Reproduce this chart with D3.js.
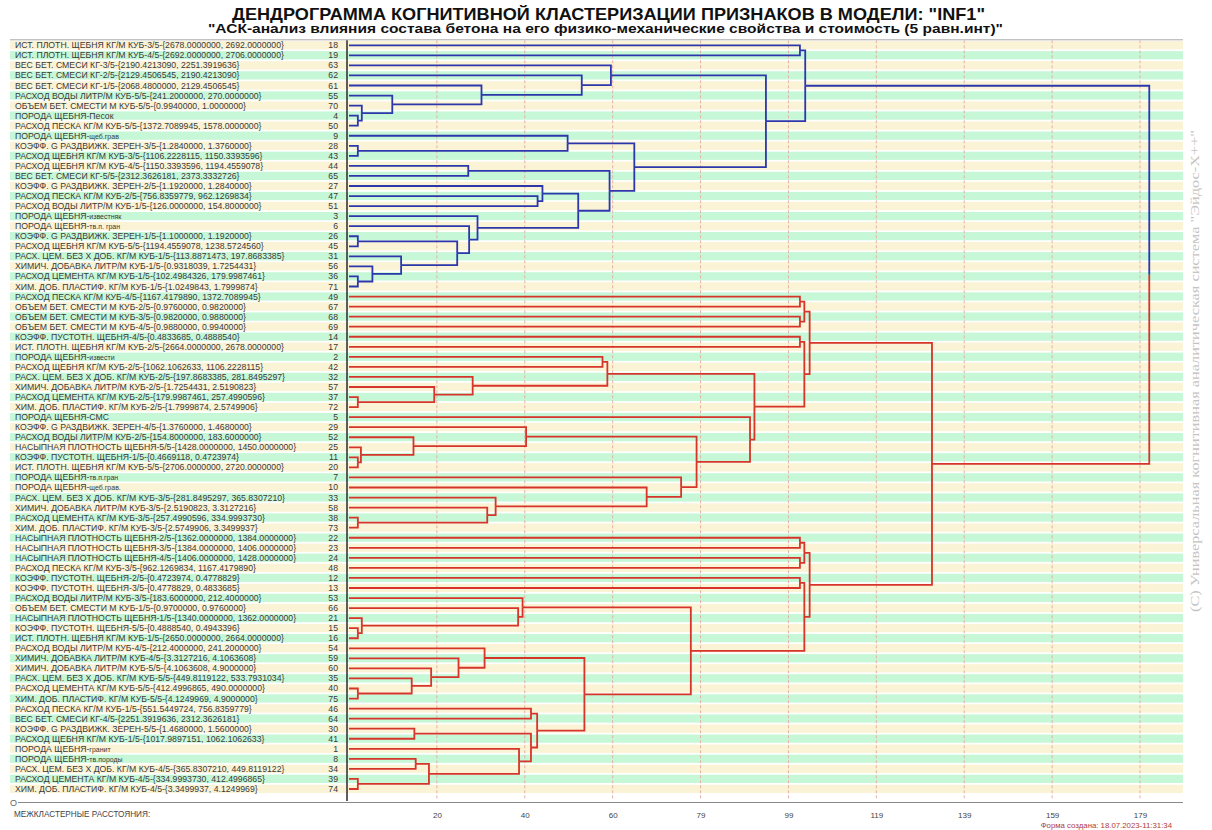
<!DOCTYPE html>
<html>
<head>
<meta charset="utf-8">
<script src="https://cdn.jsdelivr.net/npm/d3@7"></script>
<style>
  body { margin: 0; background: #fff; }
  svg { display: block; }
</style>
</head>
<body>
<svg id="chart" width="1212" height="830"></svg>
<script>
// ---- Data -----------------------------------------------------------------
const titleText = 'ДЕНДРОГРАММА КОГНИТИВНОЙ КЛАСТЕРИЗАЦИИ ПРИЗНАКОВ В МОДЕЛИ: "INF1"';
const subtitleText = '"АСК-анализ влияния состава бетона на его физико-механические  свойства и стоимость (5 равн.инт)"';
const axisTitle = 'МЕЖКЛАСТЕРНЫЕ РАССТОЯНИЯ:';
const stampText = 'Форма создана: 18.07.2023-11:31:34';
const watermarkText = '(С) Универсальная когнитивная аналитическая система "Эйдос-Х++"';

// leaf order (top to bottom) with feature names and their codes
const featureNames = [
  "ИСТ. ПЛОТН. ЩЕБНЯ КГ/М КУБ-3/5-{2678.0000000, 2692.0000000}",
  "ИСТ. ПЛОТН. ЩЕБНЯ КГ/М КУБ-4/5-{2692.0000000, 2706.0000000}",
  "ВЕС БЕТ. СМЕСИ КГ-3/5-{2190.4213090, 2251.3919636}",
  "ВЕС БЕТ. СМЕСИ КГ-2/5-{2129.4506545, 2190.4213090}",
  "ВЕС БЕТ. СМЕСИ КГ-1/5-{2068.4800000, 2129.4506545}",
  "РАСХОД ВОДЫ ЛИТР/М КУБ-5/5-{241.2000000, 270.0000000}",
  "ОБЪЕМ БЕТ. СМЕСТИ М КУБ-5/5-{0.9940000, 1.0000000}",
  "ПОРОДА ЩЕБНЯ-Песок",
  "РАСХОД ПЕСКА КГ/М КУБ-5/5-{1372.7089945, 1578.0000000}",
  "ПОРОДА ЩЕБНЯ-щеб.грав",
  "КОЭФФ. G РАЗДВИЖК. ЗЕРЕН-3/5-{1.2840000, 1.3760000}",
  "РАСХОД ЩЕБНЯ КГ/М КУБ-3/5-{1106.2228115, 1150.3393596}",
  "РАСХОД ЩЕБНЯ КГ/М КУБ-4/5-{1150.3393596, 1194.4559078}",
  "ВЕС БЕТ. СМЕСИ КГ-5/5-{2312.3626181, 2373.3332726}",
  "КОЭФФ. G РАЗДВИЖК. ЗЕРЕН-2/5-{1.1920000, 1.2840000}",
  "РАСХОД ПЕСКА КГ/М КУБ-2/5-{756.8359779, 962.1269834}",
  "РАСХОД ВОДЫ ЛИТР/М КУБ-1/5-{126.0000000, 154.8000000}",
  "ПОРОДА ЩЕБНЯ-известняк",
  "ПОРОДА ЩЕБНЯ-тв.п. гран",
  "КОЭФФ. G РАЗДВИЖК. ЗЕРЕН-1/5-{1.1000000, 1.1920000}",
  "РАСХОД ЩЕБНЯ КГ/М КУБ-5/5-{1194.4559078, 1238.5724560}",
  "РАСХ. ЦЕМ. БЕЗ Х ДОБ. КГ/М КУБ-1/5-{113.8871473, 197.8683385}",
  "ХИМИЧ. ДОБАВКА ЛИТР/М КУБ-1/5-{0.9318039, 1.7254431}",
  "РАСХОД ЦЕМЕНТА КГ/М КУБ-1/5-{102.4984326, 179.9987461}",
  "ХИМ. ДОБ. ПЛАСТИФ. КГ/М КУБ-1/5-{1.0249843, 1.7999874}",
  "РАСХОД ПЕСКА КГ/М КУБ-4/5-{1167.4179890, 1372.7089945}",
  "ОБЪЕМ БЕТ. СМЕСТИ М КУБ-2/5-{0.9760000, 0.9820000}",
  "ОБЪЕМ БЕТ. СМЕСТИ М КУБ-3/5-{0.9820000, 0.9880000}",
  "ОБЪЕМ БЕТ. СМЕСТИ М КУБ-4/5-{0.9880000, 0.9940000}",
  "КОЭФФ. ПУСТОТН. ЩЕБНЯ-4/5-{0.4833685, 0.4888540}",
  "ИСТ. ПЛОТН. ЩЕБНЯ КГ/М КУБ-2/5-{2664.0000000, 2678.0000000}",
  "ПОРОДА ЩЕБНЯ-извести",
  "РАСХОД ЩЕБНЯ КГ/М КУБ-2/5-{1062.1062633, 1106.2228115}",
  "РАСХ. ЦЕМ. БЕЗ Х ДОБ. КГ/М КУБ-2/5-{197.8683385, 281.8495297}",
  "ХИМИЧ. ДОБАВКА ЛИТР/М КУБ-2/5-{1.7254431, 2.5190823}",
  "РАСХОД ЦЕМЕНТА КГ/М КУБ-2/5-{179.9987461, 257.4990596}",
  "ХИМ. ДОБ. ПЛАСТИФ. КГ/М КУБ-2/5-{1.7999874, 2.5749906}",
  "ПОРОДА ЩЕБНЯ-СМС",
  "КОЭФФ. G РАЗДВИЖК. ЗЕРЕН-4/5-{1.3760000, 1.4680000}",
  "РАСХОД ВОДЫ ЛИТР/М КУБ-2/5-{154.8000000, 183.6000000}",
  "НАСЫПНАЯ ПЛОТНОСТЬ ЩЕБНЯ-5/5-{1428.0000000, 1450.0000000}",
  "КОЭФФ. ПУСТОТН. ЩЕБНЯ-1/5-{0.4669118, 0.4723974}",
  "ИСТ. ПЛОТН. ЩЕБНЯ КГ/М КУБ-5/5-{2706.0000000, 2720.0000000}",
  "ПОРОДА ЩЕБНЯ-тв.п.гран",
  "ПОРОДА ЩЕБНЯ-щеб.грав.",
  "РАСХ. ЦЕМ. БЕЗ Х ДОБ. КГ/М КУБ-3/5-{281.8495297, 365.8307210}",
  "ХИМИЧ. ДОБАВКА ЛИТР/М КУБ-3/5-{2.5190823, 3.3127216}",
  "РАСХОД ЦЕМЕНТА КГ/М КУБ-3/5-{257.4990596, 334.9993730}",
  "ХИМ. ДОБ. ПЛАСТИФ. КГ/М КУБ-3/5-{2.5749906, 3.3499937}",
  "НАСЫПНАЯ ПЛОТНОСТЬ ЩЕБНЯ-2/5-{1362.0000000, 1384.0000000}",
  "НАСЫПНАЯ ПЛОТНОСТЬ ЩЕБНЯ-3/5-{1384.0000000, 1406.0000000}",
  "НАСЫПНАЯ ПЛОТНОСТЬ ЩЕБНЯ-4/5-{1406.0000000, 1428.0000000}",
  "РАСХОД ПЕСКА КГ/М КУБ-3/5-{962.1269834, 1167.4179890}",
  "КОЭФФ. ПУСТОТН. ЩЕБНЯ-2/5-{0.4723974, 0.4778829}",
  "КОЭФФ. ПУСТОТН. ЩЕБНЯ-3/5-{0.4778829, 0.4833685}",
  "РАСХОД ВОДЫ ЛИТР/М КУБ-3/5-{183.6000000, 212.4000000}",
  "ОБЪЕМ БЕТ. СМЕСТИ М КУБ-1/5-{0.9700000, 0.9760000}",
  "НАСЫПНАЯ ПЛОТНОСТЬ ЩЕБНЯ-1/5-{1340.0000000, 1362.0000000}",
  "КОЭФФ. ПУСТОТН. ЩЕБНЯ-5/5-{0.4888540, 0.4943396}",
  "ИСТ. ПЛОТН. ЩЕБНЯ КГ/М КУБ-1/5-{2650.0000000, 2664.0000000}",
  "РАСХОД ВОДЫ ЛИТР/М КУБ-4/5-{212.4000000, 241.2000000}",
  "ХИМИЧ. ДОБАВКА ЛИТР/М КУБ-4/5-{3.3127216, 4.1063608}",
  "ХИМИЧ. ДОБАВКА ЛИТР/М КУБ-5/5-{4.1063608, 4.9000000}",
  "РАСХ. ЦЕМ. БЕЗ Х ДОБ. КГ/М КУБ-5/5-{449.8119122, 533.7931034}",
  "РАСХОД ЦЕМЕНТА КГ/М КУБ-5/5-{412.4996865, 490.0000000}",
  "ХИМ. ДОБ. ПЛАСТИФ. КГ/М КУБ-5/5-{4.1249969, 4.9000000}",
  "РАСХОД ПЕСКА КГ/М КУБ-1/5-{551.5449724, 756.8359779}",
  "ВЕС БЕТ. СМЕСИ КГ-4/5-{2251.3919636, 2312.3626181}",
  "КОЭФФ. G РАЗДВИЖК. ЗЕРЕН-5/5-{1.4680000, 1.5600000}",
  "РАСХОД ЩЕБНЯ КГ/М КУБ-1/5-{1017.9897151, 1062.1062633}",
  "ПОРОДА ЩЕБНЯ-гранит",
  "ПОРОДА ЩЕБНЯ-тв.породы",
  "РАСХ. ЦЕМ. БЕЗ Х ДОБ. КГ/М КУБ-4/5-{365.8307210, 449.8119122}",
  "РАСХОД ЦЕМЕНТА КГ/М КУБ-4/5-{334.9993730, 412.4996865}",
  "ХИМ. ДОБ. ПЛАСТИФ. КГ/М КУБ-4/5-{3.3499937, 4.1249969}"
];
const featureCodes = [
  18, 19, 63, 62, 61, 55, 70, 4, 50, 9, 28, 43, 44, 65, 27, 47, 51, 3, 6, 26, 45, 31, 56, 36, 71,
  49, 67, 68, 69, 14, 17, 2, 42, 32, 57, 37, 72, 5, 29, 52, 25, 11, 20, 7, 10, 33, 58, 38, 73,
  22, 23, 24, 48, 12, 13, 53, 66, 21, 15, 16, 54, 59, 60, 35, 40, 75, 46, 64, 30, 41, 1, 8, 34, 39, 74
];

// agglomeration steps: [child, child, inter-cluster distance];
// numbers are feature codes, "mN" is the cluster formed at step N
const merges = [
  [4, 50, 2.0], [70, "m0", 2.9], [55, "m1", 9.8], [61, "m2", 30.0], [62, "m3", 52.7],
  [63, "m4", 59.3], [28, 43, 2.0], [9, "m6", 49.5], [44, 65, 27.0], [47, 51, 42.7],
  [27, "m9", 43.8], [26, 45, 2.0], [36, 71, 2.0], [56, "m12", 5.3], [31, "m13", 11.8],
  ["m11", "m14", 24.5], [6, "m15", 27.2], [3, "m16", 29.1], ["m10", "m17", 51.9], ["m8", "m18", 59.0],
  ["m7", "m19", 64.6], ["m5", "m20", 94.4], [18, 19, 102.1], ["m22", "m21", 103.3],
  [49, 67, 102.1], [68, 69, 102.1], ["m24", "m25", 103.1], [14, 17, 102.1], [2, 42, 57.4],
  [37, 72, 2.0], [57, "m29", 19.3], [32, "m30", 28.0], ["m28", "m31", 58.5], [11, 20, 2.0],
  [25, "m33", 2.7], [52, "m34", 14.6], [29, "m35", 40.1], [38, 73, 2.0], [58, "m37", 31.3],
  [33, "m38", 33.2], [10, "m39", 67.4], [7, "m40", 75.2], ["m36", "m41", 78.7], [5, "m42", 90.8],
  ["m32", "m43", 91.8], ["m27", "m44", 103.1], ["m26", "m45", 104.3],
  [22, 23, 102.1], [24, 48, 102.1], ["m47", "m48", 103.1], [12, 13, 102.1], [15, 16, 2.0],
  [21, "m51", 2.9], [66, "m52", 38.3], [53, "m53", 39.3], [40, 75, 2.0], [35, "m55", 14.2],
  [60, "m56", 18.6], [59, "m57", 24.8], [54, "m58", 30.7], [46, 64, 41.2], [30, 41, 14.8],
  [8, 34, 15.1], [39, 74, 2.0], ["m62", "m63", 18.1], [1, "m64", 38.5], ["m61", "m65", 41.2],
  ["m60", "m66", 42.6], ["m59", "m67", 53.3], ["m54", "m68", 77.4], ["m50", "m69", 103.1],
  ["m49", "m70", 104.3], ["m46", "m71", 132.0], ["m23", "m72", 181.2]
];

const clusterColors = ["#2c37ab", "#d5352a"];
const tickValues = [19.9, 39.8, 59.7, 79.6, 99.5, 119.4, 139.3, 159.2, 179.1];
const tickLabels = ["20", "40", "60", "79", "99", "119", "139", "159", "179"];

// ---- Layout ----------------------------------------------------------------
const W = 1212, H = 830;
const rowsTop = 40.3, rowsBottom = 794;
const bandLeft = 10, bandRight = 1183;
const plotLeft = 347;
const FONT = "'Liberation Sans', Arial, sans-serif";

const svg = d3.select("#chart");
svg.append("rect").attr("width", W).attr("height", H).attr("fill", "#fff");

const x = d3.scaleLinear().domain([0, 179.1]).range([349, 1140]);
const y = d3.scaleBand().domain(featureCodes).range([rowsTop, rowsBottom]).padding(0);
const yc = code => y(code) + y.step() / 2;

// ---- Build the hierarchy ---------------------------------------------------
const nodes = new Map();
featureCodes.forEach(c => nodes.set(String(c), { id: String(c), h: 0 }));
merges.forEach(([a, b, h], i) => {
  const id = "m" + i;
  nodes.set(id, { id, h, children: [nodes.get(String(a)), nodes.get(String(b))] });
});
const root = d3.hierarchy(nodes.get("m" + (merges.length - 1)));
root.eachAfter(n => {
  n.py = n.children ? d3.mean(n.children, c => c.py) : yc(+n.data.id);
  n.px = x(n.data.h);
});
root.children.forEach((c, i) => c.each(d => { d.color = clusterColors[i]; }));

// ---- Row stripes -----------------------------------------------------------
svg.append("g").selectAll("rect")
  .data(featureCodes)
  .join("rect")
  .attr("x", bandLeft)
  .attr("width", bandRight - bandLeft)
  .attr("y", d => y(d) + 0.8)
  .attr("height", y.step() - 1.8)
  .attr("fill", (d, i) => i % 2 === 0 ? "#fbf3d5" : "#c6f7d7");

// top border
svg.append("line")
  .attr("x1", bandLeft).attr("x2", bandRight)
  .attr("y1", rowsTop - 0.5).attr("y2", rowsTop - 0.5)
  .attr("stroke", "#a8a8a8").attr("stroke-width", 1);

// ---- Vertical grid ---------------------------------------------------------
svg.append("g").selectAll("line")
  .data(tickValues)
  .join("line")
  .attr("x1", d => x(d)).attr("x2", d => x(d))
  .attr("y1", rowsTop).attr("y2", 800)
  .attr("stroke", "#e2b2a6")
  .attr("stroke-width", 1)
  .attr("stroke-dasharray", "3,2");

// ---- Labels ----------------------------------------------------------------
const labels = svg.append("g")
  .attr("font-family", FONT)
  .attr("fill", "#3a3a3a");

const lab = labels.selectAll("text.name")
  .data(featureNames)
  .join("text")
  .attr("class", "name")
  .attr("x", 15)
  .attr("y", (d, i) => yc(featureCodes[i]) + 3)
  .attr("font-size", 8.7);
lab.each(function (d) {
  const t = d3.select(this);
  const m = d.match(/^(ПОРОДА ЩЕБНЯ-)(.*)$/);
  if (m && /^[а-я]/.test(m[2])) {
    t.append("tspan").text(m[1]);
    t.append("tspan").attr("font-size", 7).text(m[2]);
  } else {
    t.text(d);
  }
});

labels.selectAll("text.code")
  .data(featureCodes)
  .join("text")
  .attr("class", "code")
  .attr("x", 338)
  .attr("y", d => yc(d) + 3)
  .attr("text-anchor", "end")
  .attr("font-size", 8.7)
  .text(d => d);

// ---- Dendrogram links ------------------------------------------------------
svg.append("g")
  .attr("fill", "none")
  .attr("stroke-width", 1.8)
  .selectAll("path")
  .data(root.descendants().filter(d => d.parent))
  .join("path")
  .attr("stroke", d => d.color)
  .attr("d", d => `M${d.px},${d.py}H${d.parent.px}V${d.parent.py}`);

// left frame of the plot
svg.append("line")
  .attr("x1", plotLeft).attr("x2", plotLeft)
  .attr("y1", rowsTop).attr("y2", 801)
  .attr("stroke", "#2a2a2a").attr("stroke-width", 1.5);

// ---- Bottom axis -----------------------------------------------------------
svg.append("line")
  .attr("x1", 18).attr("x2", bandRight)
  .attr("y1", 802.5).attr("y2", 802.5)
  .attr("stroke", "#8a8a8a").attr("stroke-width", 1);
svg.append("text")
  .attr("x", 10).attr("y", 806)
  .attr("font-family", FONT).attr("font-size", 9).attr("fill", "#666")
  .text("O");

const axis = svg.append("g")
  .attr("transform", "translate(0,809)")
  .call(d3.axisBottom(x).tickValues(tickValues).tickFormat((d, i) => tickLabels[i]).tickSize(0));
axis.select(".domain").remove();
axis.selectAll("text")
  .attr("font-family", FONT)
  .attr("font-size", 8)
  .attr("fill", "#444");

svg.append("text")
  .attr("x", 14).attr("y", 817)
  .attr("font-family", FONT).attr("font-size", 8.2).attr("fill", "#444")
  .text(axisTitle);

svg.append("text")
  .attr("x", 1172).attr("y", 828)
  .attr("text-anchor", "end")
  .attr("font-family", FONT).attr("font-size", 7.8).attr("fill", "#b23a3a")
  .text(stampText);

// ---- Titles ----------------------------------------------------------------
svg.append("text")
  .attr("x", 232).attr("y", 19.5)
  .attr("font-family", FONT).attr("font-weight", "bold").attr("font-size", 16.5)
  .attr("fill", "#111")
  .attr("textLength", 753).attr("lengthAdjust", "spacingAndGlyphs")
  .text(titleText);
svg.append("text")
  .attr("x", 208).attr("y", 33)
  .attr("font-family", FONT).attr("font-weight", "bold").attr("font-size", 13.5)
  .attr("fill", "#111")
  .attr("textLength", 795).attr("lengthAdjust", "spacingAndGlyphs")
  .text(subtitleText);

// ---- Watermark -------------------------------------------------------------
svg.append("text")
  .attr("transform", "translate(1199,612) rotate(-90)")
  .attr("font-family", "'Liberation Serif', 'Times New Roman', serif")
  .attr("font-size", 12)
  .attr("fill", "#c4c4c4")
  .attr("textLength", 482).attr("lengthAdjust", "spacingAndGlyphs")
  .text(watermarkText);
</script>
</body>
</html>
